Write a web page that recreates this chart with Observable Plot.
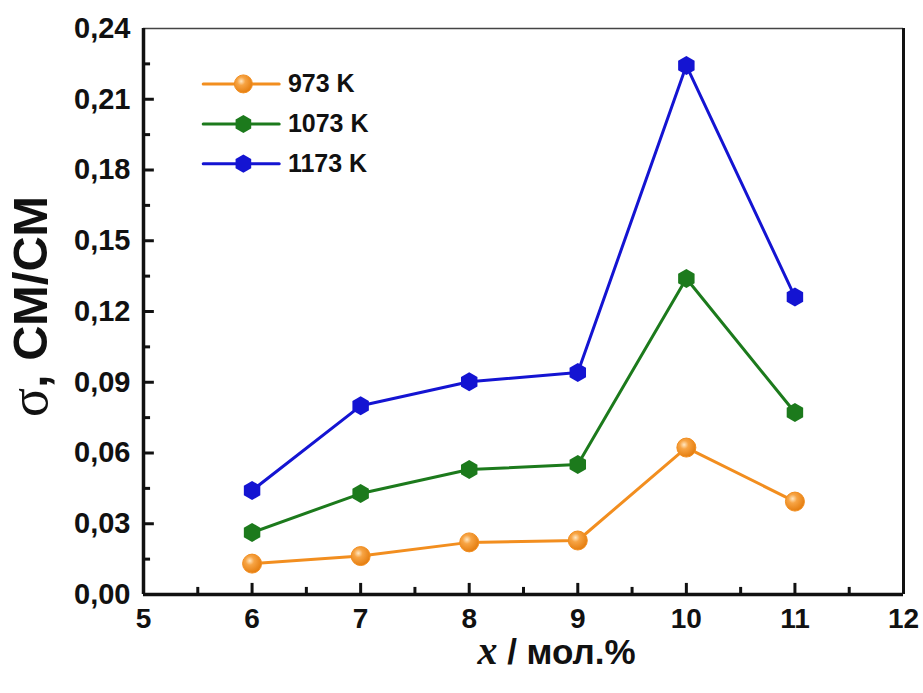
<!DOCTYPE html>
<html>
<head>
<meta charset="utf-8">
<script src="https://cdn.jsdelivr.net/npm/d3@7"></script>
<script src="https://cdn.jsdelivr.net/npm/@observablehq/plot@0.6"></script>
<style>
  html, body { margin: 0; padding: 0; background: #fff; }
  #chart svg { display: block; font-family: "Liberation Sans", Arial, sans-serif; }
</style>
</head>
<body>
<div id="chart"></div>
<script>
const xs = [6, 7, 8, 9, 10, 11];
const series = ["973 K", "1073 K", "1173 K"];
const s973 = [0.0131, 0.0163, 0.0221, 0.0229, 0.0623, 0.0394];
const s1073 = [0.0263, 0.0428, 0.0530, 0.0551, 0.1340, 0.0772];
const s1173 = [0.0441, 0.0800, 0.0902, 0.0941, 0.2243, 0.1262];
const colors = ["#F28E1F", "#1C7A1C", "#1414D2"];
const xMajor = [5, 6, 7, 8, 9, 10, 11, 12];
const xMinor = [5.5, 6.5, 7.5, 8.5, 9.5, 10.5, 11.5];
const yMajor = [0, 0.03, 0.06, 0.09, 0.12, 0.15, 0.18, 0.21, 0.24];
const yMinor = [0.015, 0.045, 0.075, 0.105, 0.135, 0.165, 0.195, 0.225];
const xLabel = "x / мол.%";
const yLabel = "σ, См/см";
// legend placement (data coordinates inside plot)
const legendX = [5.55, 6.25];
const legendMarkX = 5.92;
const legendTextX = 6.33;
const legendY = [0.2165, 0.1995, 0.1827];

const values = [s973, s1073, s1173];
const data = [];
series.forEach((s, i) => xs.forEach((x, j) => data.push({series: s, x, y: values[i][j], i})));
const legend = series.map((s, i) => ({series: s, i, y: legendY[i]}));
const legendLines = legend.flatMap(d => legendX.map(x => ({...d, x})));

const fmt = d => d3.format(".2f")(d).replace(".", ",");

// pointy-top hexagon symbol
const hexPointy = {
  draw(context, size) {
    const R = Math.sqrt(size / Math.PI) * 0.95;
    for (let k = 0; k < 6; ++k) {
      const a = -Math.PI / 2 + k * Math.PI / 3;
      const px = R * Math.cos(a), py = R * Math.sin(a);
      if (k === 0) context.moveTo(px, py); else context.lineTo(px, py);
    }
    context.closePath();
  }
};

// tick lengths in data units (11px / 7px)
const xTickMaj = 0.0047, xTickMin = 0.003;
const yTickMaj = 0.10, yTickMin = 0.065;

const chart = Plot.plot({
  width: 923,
  height: 693,
  marginLeft: 143,
  marginRight: 20,
  marginTop: 28,
  marginBottom: 99,
  x: {domain: [5, 12], axis: null},
  y: {domain: [0, 0.24], axis: null},
  marks: [
    // tick labels
    Plot.axisX({ticks: xMajor, label: null, tickSize: 0, tickPadding: 14, fontSize: 28, fontWeight: "bold", fill: "#111", tickFormat: d => d}),
    Plot.axisY({ticks: yMajor, label: null, tickSize: 0, tickPadding: 13, fontSize: 29, fontWeight: "bold", fill: "#111", tickFormat: fmt}),
    // inward ticks
    Plot.ruleX(xMajor, {x: d => d, y1: 0, y2: xTickMaj, stroke: "#111", strokeWidth: 3}),
    Plot.ruleX(xMinor, {x: d => d, y1: 0, y2: xTickMin, stroke: "#111", strokeWidth: 3}),
    Plot.ruleY(yMajor.filter(d => d > 0 && d < 0.24), {y: d => d, x1: 5, x2: 5 + yTickMaj, stroke: "#111", strokeWidth: 3}),
    Plot.ruleY(yMinor, {y: d => d, x1: 5, x2: 5 + yTickMin, stroke: "#111", strokeWidth: 3}),
    // frame
    Plot.ruleY([0.24], {stroke: "#444", strokeWidth: 1.5}),
    Plot.ruleX([12], {stroke: "#111", strokeWidth: 3}),
    Plot.ruleX([5], {stroke: "#111", strokeWidth: 3.5}),
    Plot.ruleY([0], {stroke: "#111", strokeWidth: 3.5}),
    // data lines
    Plot.line(data, {x: "x", y: "y", z: "series", stroke: d => colors[d.i], strokeWidth: 3}),
    // markers
    Plot.dot(data.filter(d => d.i === 0), {x: "x", y: "y", symbol: "circle", r: 9.5, fill: "url(#ballGrad)", stroke: colors[0], strokeWidth: 1}),
    Plot.dot(data.filter(d => d.i === 1), {x: "x", y: "y", symbol: hexPointy, r: 10, fill: colors[1]}),
    Plot.dot(data.filter(d => d.i === 2), {x: "x", y: "y", symbol: hexPointy, r: 10, fill: colors[2]}),
    // legend
    Plot.line(legendLines, {x: "x", y: "y", z: "series", stroke: d => colors[d.i], strokeWidth: 3}),
    Plot.dot(legend.filter(d => d.i === 0), {x: legendMarkX, y: "y", symbol: "circle", r: 9, fill: "url(#ballGrad)", stroke: colors[0], strokeWidth: 1}),
    Plot.dot(legend.filter(d => d.i === 1), {x: legendMarkX, y: "y", symbol: hexPointy, r: 9.5, fill: colors[1]}),
    Plot.dot(legend.filter(d => d.i === 2), {x: legendMarkX, y: "y", symbol: hexPointy, r: 9.5, fill: colors[2]}),
    Plot.text(legend, {x: legendTextX, y: "y", text: "series", textAnchor: "start", fontSize: 25, fontWeight: "bold", fill: "#111"}),
    // axis titles
    Plot.text([xLabel], {frameAnchor: "bottom", textAnchor: "middle", lineAnchor: "middle", dx: 33, dy: 58, fontSize: 35, fontWeight: "bold", fill: "#111", className: "xlab"}),
    Plot.text([yLabel], {frameAnchor: "left", textAnchor: "middle", lineAnchor: "middle", dx: -112, dy: -5, rotate: -90, fontSize: 49, fontWeight: "bold", fill: "#111", className: "ylab"})
  ]
});

// gradient for shaded orange balls
const svg = d3.select(chart);
const defs = svg.insert("defs", ":first-child");
const g = defs.append("radialGradient").attr("id", "ballGrad").attr("cx", "38%").attr("cy", "35%").attr("r", "65%");
g.append("stop").attr("offset", "0%").attr("stop-color", "#FFE7C2");
g.append("stop").attr("offset", "35%").attr("stop-color", "#F7A444");
g.append("stop").attr("offset", "100%").attr("stop-color", "#E57E10");

// styled tspans for axis titles
svg.selectAll("g.xlab text").each(function() {
  const t = d3.select(this);
  t.text(null);
  t.append("tspan").attr("font-family", "'Liberation Serif', 'DejaVu Serif', serif").attr("font-style", "italic").attr("font-size", 40).text("x");
  t.append("tspan").text(" / мол.%");
});
svg.selectAll("g.ylab text").each(function() {
  const t = d3.select(this);
  t.text(null);
  t.append("tspan").attr("font-family", "'Liberation Serif', 'DejaVu Serif', serif").attr("font-weight", "normal").attr("font-size", 54).text("σ");
  t.append("tspan").text(", ");
  t.append("tspan").style("text-transform", "uppercase").text("См/см");
});

document.getElementById("chart").appendChild(chart);
</script>
</body>
</html>
